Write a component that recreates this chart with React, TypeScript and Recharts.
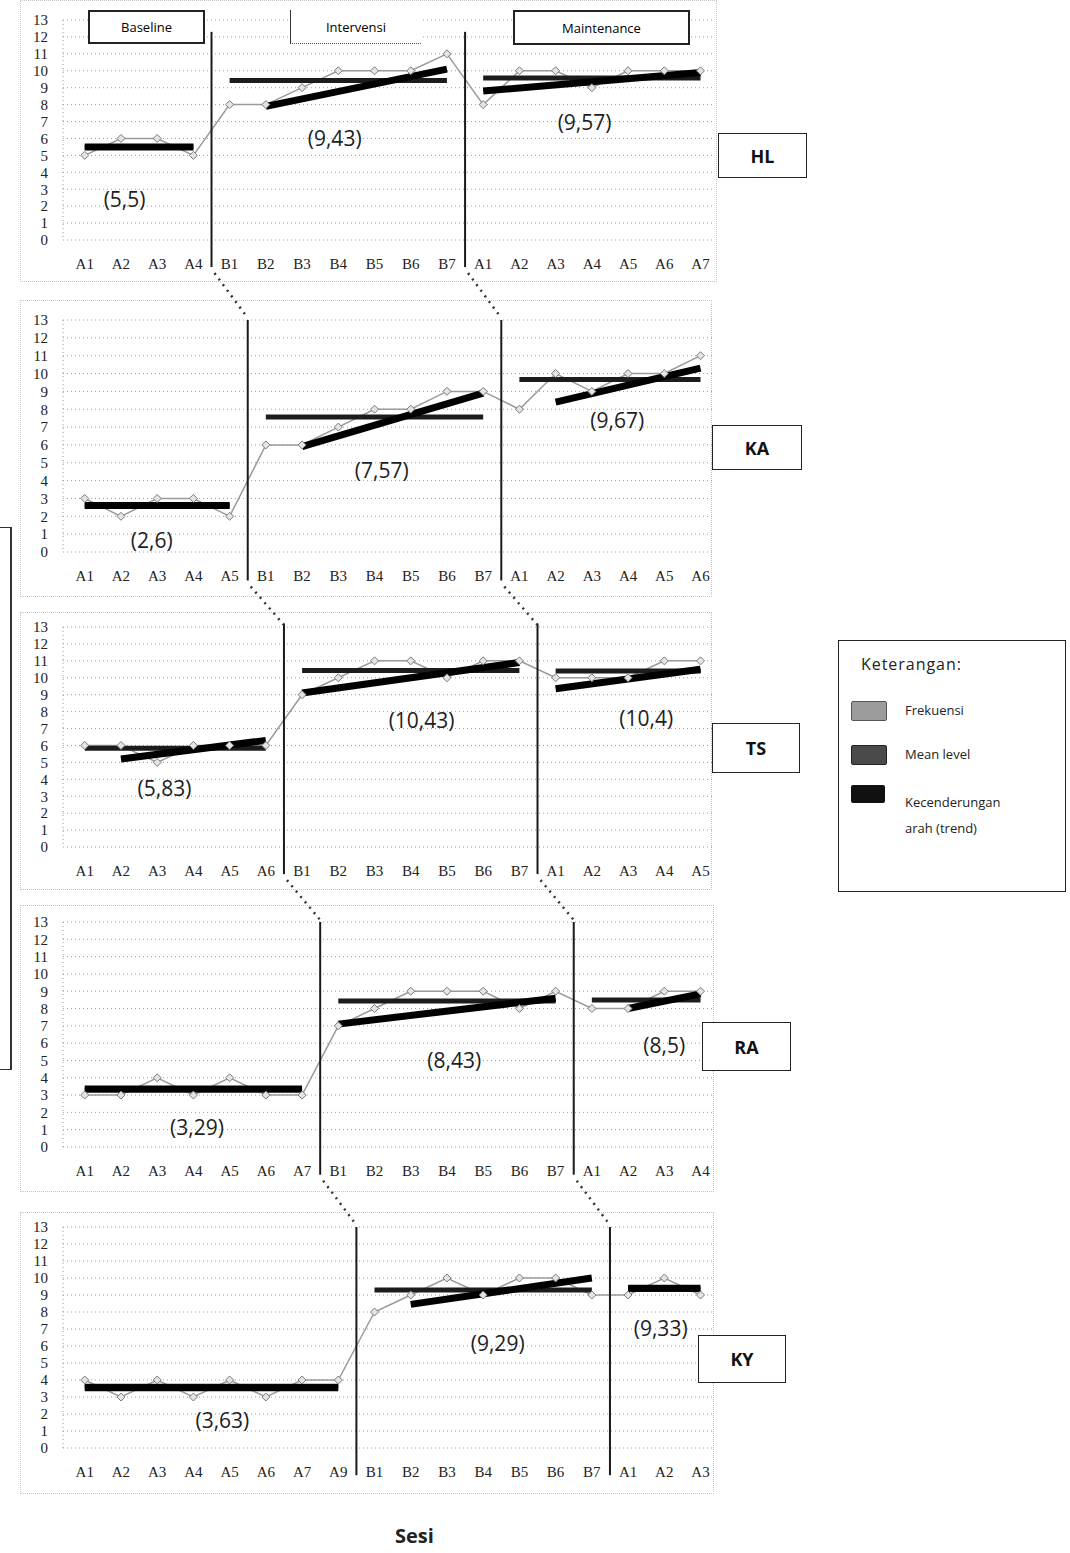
import { LineChart, Line, XAxis, YAxis, CartesianGrid, ReferenceLine, ReferenceDot } from 'recharts';

const yTicks = [0, 1, 2, 3, 4, 5, 6, 7, 8, 9, 10, 11, 12, 13];

// HL
const hlSesi = ['A1', 'A2', 'A3', 'A4', 'B1', 'B2', 'B3', 'B4', 'B5', 'B6', 'B7', 'A1', 'A2', 'A3', 'A4', 'A5', 'A6', 'A7'];
const hlFreq = [5, 6, 6, 5, 8, 8, 9, 10, 10, 10, 11, 8, 10, 10, 9, 10, 10, 10];
const hlPhases = [4, 7, 7];
const hlMean = [5.5, 9.43, 9.57];
const hlTrend = [[5.5, 5.5], [7.9, 10.1], [8.8, 9.9]];
const hlNotes = ['(5,5)', '(9,43)', '(9,57)'];

// KA
const kaSesi = ['A1', 'A2', 'A3', 'A4', 'A5', 'B1', 'B2', 'B3', 'B4', 'B5', 'B6', 'B7', 'A1', 'A2', 'A3', 'A4', 'A5', 'A6'];
const kaFreq = [3, 2, 3, 3, 2, 6, 6, 7, 8, 8, 9, 9, 8, 10, 9, 10, 10, 11];
const kaPhases = [5, 7, 6];
const kaMean = [2.6, 7.57, 9.67];
const kaTrend = [[2.6, 2.6], [5.9, 8.9], [8.4, 10.3]];
const kaNotes = ['(2,6)', '(7,57)', '(9,67)'];

// TS
const tsSesi = ['A1', 'A2', 'A3', 'A4', 'A5', 'A6', 'B1', 'B2', 'B3', 'B4', 'B5', 'B6', 'B7', 'A1', 'A2', 'A3', 'A4', 'A5'];
const tsFreq = [6, 6, 5, 6, 6, 6, 9, 10, 11, 11, 10, 11, 11, 10, 10, 10, 11, 11];
const tsPhases = [6, 7, 5];
const tsMean = [5.83, 10.43, 10.4];
const tsTrend = [[5.2, 6.3], [9.1, 10.9], [9.35, 10.5]];
const tsNotes = ['(5,83)', '(10,43)', '(10,4)'];

// RA
const raSesi = ['A1', 'A2', 'A3', 'A4', 'A5', 'A6', 'A7', 'B1', 'B2', 'B3', 'B4', 'B5', 'B6', 'B7', 'A1', 'A2', 'A3', 'A4'];
const raFreq = [3, 3, 4, 3, 4, 3, 3, 7, 8, 9, 9, 9, 8, 9, 8, 8, 9, 9];
const raPhases = [7, 7, 4];
const raMean = [3.29, 8.43, 8.5];
const raTrend = [[3.35, 3.35], [7.1, 8.6], [8.0, 8.85]];
const raNotes = ['(3,29)', '(8,43)', '(8,5)'];

// KY
const kySesi = ['A1', 'A2', 'A3', 'A4', 'A5', 'A6', 'A7', 'A9', 'B1', 'B2', 'B3', 'B4', 'B5', 'B6', 'B7', 'A1', 'A2', 'A3'];
const kyFreq = [4, 3, 4, 3, 4, 3, 4, 4, 8, 9, 10, 9, 10, 10, 9, 9, 10, 9];
const kyPhases = [8, 7, 3];
const kyMean = [3.63, 9.29, 9.33];
const kyTrend = [[3.55, 3.55], [8.45, 10.0], [9.4, 9.4]];
const kyNotes = ['(3,63)', '(9,29)', '(9,33)'];

const CHART_W = 720;
const Y_AXIS_W = 63;
const X_MIN = -0.6;
const X_MAX = 17.4;
const PLOT_W = CHART_W - Y_AXIS_W - 5;
const TOP_PAD = 10;
const X_AXIS_H = 40;

const panels = [
  { subject: 'HL', sesi: hlSesi, freq: hlFreq, phases: hlPhases, mean: hlMean, trend: hlTrend, trendFrom: [0, 1, 0], notes: hlNotes,
    top: 20, height: 220, lineTop: 12.3, noteAt: [[1.1, 2.4], [6.9, 6.0], [13.8, 7.0]], box: [718, 133, 87, 43], frame: [20, 0, 695, 280] },
  { subject: 'KA', sesi: kaSesi, freq: kaFreq, phases: kaPhases, mean: kaMean, trend: kaTrend, trendFrom: [0, 1, 1], notes: kaNotes,
    top: 320, height: 232, lineTop: 13, noteAt: [[1.85, 0.7], [8.2, 4.6], [14.7, 7.4]], box: [712, 425, 88, 43], frame: [20, 300, 690, 295] },
  { subject: 'TS', sesi: tsSesi, freq: tsFreq, phases: tsPhases, mean: tsMean, trend: tsTrend, trendFrom: [1, 0, 0], notes: tsNotes,
    top: 627, height: 220, lineTop: 13.2, noteAt: [[2.2, 3.5], [9.3, 7.5], [15.5, 7.6]], box: [712, 723, 86, 48], frame: [20, 612, 690, 276] },
  { subject: 'RA', sesi: raSesi, freq: raFreq, phases: raPhases, mean: raMean, trend: raTrend, trendFrom: [0, 0, 1], notes: raNotes,
    top: 922, height: 225, lineTop: 13, noteAt: [[3.1, 1.15], [10.2, 5.0], [16.0, 5.9]], box: [702, 1022, 87, 47], frame: [20, 905, 692, 285] },
  { subject: 'KY', sesi: kySesi, freq: kyFreq, phases: kyPhases, mean: kyMean, trend: kyTrend, trendFrom: [0, 1, 0], notes: kyNotes,
    top: 1227, height: 221, lineTop: 13, noteAt: [[3.8, 1.65], [11.4, 6.2], [15.9, 7.05]], box: [698, 1335, 86, 46], frame: [20, 1212, 692, 280] },
];

const idxToPx = (i: number) => Y_AXIS_W + ((i - X_MIN) * PLOT_W) / (X_MAX - X_MIN);

function breaksOf(phases: number[]) {
  return [phases[0] - 0.5, phases[0] + phases[1] - 0.5];
}

function Diamond(props: any) {
  const { cx, cy } = props;
  if (cx == null || cy == null) return null;
  return <path d={`M${cx},${cy - 4} L${cx + 4},${cy} L${cx},${cy + 4} L${cx - 4},${cy} Z`} fill="#e4e4e4" stroke="#7a7a7a" strokeWidth={1} />;
}

function Panel({ p }: { p: any }) {
  const rows = p.freq.map((v: number, i: number) => ({ x: i, y: v }));
  const starts: number[] = [];
  let acc = 0;
  p.phases.forEach((n: number) => { starts.push(acc); acc += n; });
  const breaks = breaksOf(p.phases);

  return (
    <div style={{ position: 'absolute', left: 0, top: p.top - TOP_PAD }}>
      <LineChart width={CHART_W} height={TOP_PAD + p.height + X_AXIS_H} data={rows}
        margin={{ top: TOP_PAD, right: 5, left: 0, bottom: 0 }}>
        <CartesianGrid horizontal vertical={false} stroke="#9e9e9e" strokeDasharray="1 3" />
        <XAxis dataKey="x" type="number" domain={[X_MIN, X_MAX]} ticks={p.sesi.map((_: string, i: number) => i)}
          interval={0} tickFormatter={(i: number) => p.sesi[i]} tickLine={false} height={X_AXIS_H} tickMargin={12}
          axisLine={false} tick={{ fontFamily: 'Liberation Serif', fontSize: 15, fill: '#222' }} />
        <YAxis type="number" domain={[0, 13]} ticks={yTicks} interval={0} width={Y_AXIS_W} tickLine={false}
          tickMargin={9} axisLine={{ stroke: '#999', strokeDasharray: '1 3' }}
          tick={{ fontFamily: 'Liberation Serif', fontSize: 15, fill: '#222' }} />
        <Line dataKey="y" stroke="#9a9a9a" strokeWidth={1.5} dot={<Diamond />} isAnimationActive={false} />
        {p.phases.map((n: number, k: number) => (
          <Line key={`m${k}`} data={[{ x: starts[k], y: p.mean[k] }, { x: starts[k] + n - 1, y: p.mean[k] }]}
            dataKey="y" stroke="#1c1c1c" strokeWidth={5} dot={false} isAnimationActive={false} />
        ))}
        {p.phases.map((n: number, k: number) => (
          <Line key={`t${k}`} data={[{ x: starts[k] + p.trendFrom[k], y: p.trend[k][0] }, { x: starts[k] + n - 1, y: p.trend[k][1] }]}
            dataKey="y" stroke="#000" strokeWidth={7} dot={false} isAnimationActive={false} />
        ))}
        {breaks.map((b: number, k: number) => (
          <ReferenceLine key={`b${k}`} segment={[{ x: b, y: p.lineTop }, { x: b, y: -1.6 }]} ifOverflow="visible"
            stroke="#1a1a1a" strokeWidth={2} />
        ))}
        {p.notes.map((t: string, k: number) => (
          <ReferenceDot key={`n${k}`} x={p.noteAt[k][0]} y={p.noteAt[k][1]} r={0} ifOverflow="visible"
            shape={(s: any) => (
              <text x={s.cx} y={s.cy} textAnchor="middle" dominantBaseline="central"
                style={{ fontFamily: 'Open Sans', fontSize: 21, fill: '#1e1e1e' }}>{t}</text>
            )} />
        ))}
      </LineChart>
    </div>
  );
}

function Connectors() {
  const segs: any[] = [];
  for (let i = 0; i < panels.length - 1; i++) {
    const a = panels[i];
    const b = panels[i + 1];
    const ba = breaksOf(a.phases);
    const bb = breaksOf(b.phases);
    const yA = a.top + a.height + (1.6 * a.height) / 13 + 6;
    for (let k = 0; k < 2; k++) {
      segs.push(<line key={`${i}-${k}`} x1={idxToPx(ba[k]) + 3} y1={yA} x2={idxToPx(bb[k])} y2={b.top - 2}
        stroke="#333" strokeWidth={2.5} strokeDasharray="2 5" />);
    }
  }
  return (
    <svg width={1070} height={1553} style={{ position: 'absolute', left: 0, top: 0, pointerEvents: 'none' }}>
      {segs}
    </svg>
  );
}

const boxText = { fontFamily: 'Open Sans', fontWeight: 700, fontSize: 18, color: '#111' };

export default function App() {
  return (
    <div style={{ position: 'absolute', left: 0, top: 0, width: 1070, height: 1553, background: '#fff', overflow: 'hidden' }}>
      {panels.map((p) => (
        <div key={`f${p.subject}`} style={{ position: 'absolute', left: p.frame[0], top: p.frame[1], width: p.frame[2], height: p.frame[3], border: '1px dotted #c4c4c4' }} />
      ))}
      {panels.map((p) => <Panel key={p.subject} p={p} />)}
      <Connectors />

      {/* phase headers on the first panel */}
      <div style={{ position: 'absolute', left: 88, top: 10, width: 113, height: 30, border: '2px solid #222', background: '#fff',
        display: 'flex', alignItems: 'center', justifyContent: 'center', fontFamily: 'Open Sans', fontSize: 13 }}>Baseline</div>
      <div style={{ position: 'absolute', left: 290, top: 10, width: 130, height: 33, borderLeft: '1px solid #333', borderBottom: '1px dotted #555', background: '#fff',
        display: 'flex', alignItems: 'center', justifyContent: 'center', fontFamily: 'Open Sans', fontSize: 13 }}>Intervensi</div>
      <div style={{ position: 'absolute', left: 513, top: 10, width: 173, height: 31, border: '2px solid #222', background: '#fff',
        display: 'flex', alignItems: 'center', justifyContent: 'center', fontFamily: 'Open Sans', fontSize: 13 }}>Maintenance</div>

      {panels.map((p) => (
        <div key={`s${p.subject}`} style={{ position: 'absolute', left: p.box[0], top: p.box[1], width: p.box[2], height: p.box[3],
          border: '1.5px solid #222', background: '#fff', display: 'flex', alignItems: 'center', justifyContent: 'center', ...boxText }}>
          {p.subject}
        </div>
      ))}

      {/* left bracket */}
      <div style={{ position: 'absolute', left: 0, top: 527, width: 10, height: 541, borderTop: '1.5px solid #333', borderRight: '2px solid #333', borderBottom: '1.5px solid #333' }} />

      {/* legend */}
      <div style={{ position: 'absolute', left: 838, top: 640, width: 226, height: 250, border: '1.5px solid #222', background: '#fff', fontFamily: 'Open Sans', color: '#222' }}>
        <div style={{ position: 'absolute', left: 22, top: 12, fontSize: 16, letterSpacing: '0.06em' }}>Keterangan:</div>
        <div style={{ position: 'absolute', left: 12, top: 60, width: 34, height: 18, background: '#9c9c9c', border: '1px solid #555', borderRadius: 2 }} />
        <div style={{ position: 'absolute', left: 66, top: 60, fontSize: 13 }}>Frekuensi</div>
        <div style={{ position: 'absolute', left: 12, top: 104, width: 34, height: 18, background: '#4a4a4a', border: '1px solid #222', borderRadius: 2 }} />
        <div style={{ position: 'absolute', left: 66, top: 104, fontSize: 13 }}>Mean level</div>
        <div style={{ position: 'absolute', left: 12, top: 144, width: 34, height: 18, background: '#111', borderRadius: 2 }} />
        <div style={{ position: 'absolute', left: 66, top: 148, fontSize: 13, lineHeight: '26px' }}>Kecenderungan<br />arah (trend)</div>
      </div>

      <div style={{ position: 'absolute', left: 395, top: 1522, fontFamily: 'Open Sans', fontWeight: 700, fontSize: 20, color: '#222' }}>Sesi</div>
    </div>
  );
}
